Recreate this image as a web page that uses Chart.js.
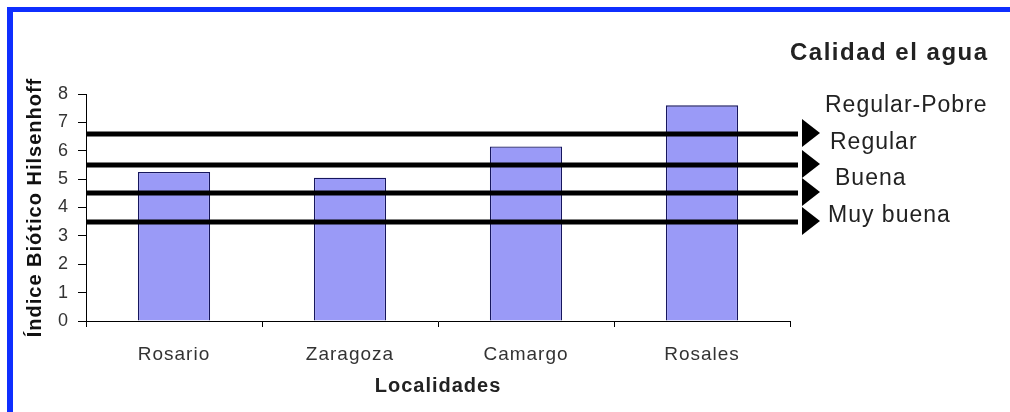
<!DOCTYPE html>
<html>
<head>
<meta charset="utf-8">
<script src="https://cdn.jsdelivr.net/npm/chart.js@4"></script>
<style>
  html, body { margin: 0; padding: 0; background: #fff; }
  #wrap { width: 1010px; height: 412px; }
</style>
</head>
<body>
<div id="wrap"><canvas id="myChart" width="1010" height="412"></canvas></div>
<script>
// datos
var localidades = ['Rosario', 'Zaragoza', 'Camargo', 'Rosales'];
var indice = [5.25, 5.05, 6.15, 7.6];
var limites = [6.6, 5.5, 4.5, 3.5];
var calidades = ['Regular-Pobre', 'Regular', 'Buena', 'Muy buena'];
var yMin = 0, yMax = 8, yPaso = 1;

var fuente = 'Liberation Sans, Arial, sans-serif';

// lineas de calidad, flechas y textos de la derecha
const lineasCalidad = {
  id: 'lineasCalidad',
  beforeUpdate(chart) {
    chart.ctx.letterSpacing = '1px';
  },
  beforeDraw(chart) {
    const c = chart.ctx;
    c.save();
    c.fillStyle = '#fff';
    c.fillRect(0, 0, chart.width, chart.height);
    c.fillStyle = '#0f2fff';
    c.fillRect(7, 7, chart.width - 7, 5);
    c.fillRect(7, 7, 6, chart.height - 7);
    c.restore();
    c.letterSpacing = '1px';
  },
  afterDatasetsDraw(chart) {
    const c = chart.ctx, y = chart.scales.y, a = chart.chartArea;
    c.save();
    c.fillStyle = '#000';
    limites.forEach(function (v) {
      const py = Math.round(y.getPixelForValue(v));
      c.fillRect(a.left, py - 2.5, a.right + 8 - a.left, 5);
      c.beginPath();
      c.moveTo(a.right + 12, py - 15);
      c.lineTo(a.right + 30, py - 1);
      c.lineTo(a.right + 12, py + 13);
      c.closePath();
      c.fill();
    });

    c.fillStyle = '#222';
    c.textBaseline = 'alphabetic';
    c.textAlign = 'left';
    c.letterSpacing = '1.5px';
    c.font = 'bold 24px ' + fuente;
    c.fillText('Calidad el agua', a.right, 60);

    c.letterSpacing = '1px';
    c.font = '23px ' + fuente;
    var xs = [35, 40, 45, 38];
    calidades.forEach(function (t, i) {
      c.fillText(t, a.right + xs[i], 112 + i * 36.7);
    });
    c.restore();
  }
};

new Chart(document.getElementById('myChart'), {
  type: 'bar',
  data: {
    labels: localidades,
    datasets: [{
      label: 'Indice',
      data: indice,
      backgroundColor: '#9a9af7',
      borderColor: '#16165e',
      borderWidth: 1.3,
      barPercentage: 0.41,
      categoryPercentage: 1
    }]
  },
  options: {
    responsive: false,
    animation: false,
    layout: { padding: { left: 0, top: 94, right: 220, bottom: 0 } },
    plugins: { legend: { display: false }, tooltip: { enabled: false } },
    scales: {
      x: {
        grid: { offset: true, drawOnChartArea: false, tickLength: 6, color: '#000' },
        border: { color: '#000', width: 1 },
        ticks: { color: '#333', padding: 16, font: { family: fuente, size: 19 } },
        title: {
          display: true, text: 'Localidades', color: '#222',
          font: { family: fuente, size: 20, weight: 'bold' }, padding: 14
        },
        afterFit(s) { s.height = 91; }
      },
      y: {
        min: yMin, max: yMax,
        grid: { drawOnChartArea: false, tickLength: 8, color: '#000' },
        border: { color: '#000', width: 1 },
        ticks: { stepSize: yPaso, color: '#333', padding: 9, font: { family: fuente, size: 18 } },
        title: {
          display: true, text: 'Índice Biótico Hilsenhoff', color: '#111',
          font: { family: fuente, size: 20, weight: 'bold' }, padding: 23
        },
        afterFit(s) { s.width = 86; }
      }
    }
  },
  plugins: [lineasCalidad]
});
</script>
</body>
</html>
